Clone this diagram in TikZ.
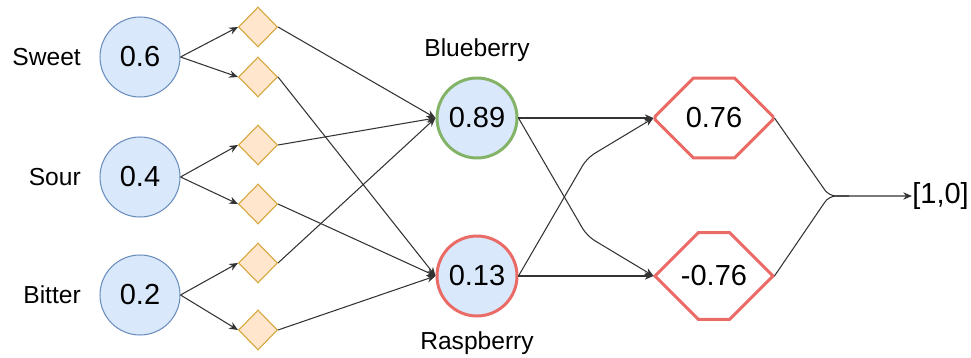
\documentclass[tikz,border=0pt]{standalone}
\usepackage{fontspec}
\setmainfont{Liberation Sans}
\usetikzlibrary{shapes,positioning,arrows.meta,calc}
\definecolor{infill}{HTML}{DAE8FC}
\definecolor{inblue}{HTML}{6C8EBF}
\definecolor{gatefill}{HTML}{FFE6CC}
\definecolor{gatedraw}{HTML}{D6A63A}
\definecolor{leafgreen}{HTML}{82B366}
\definecolor{hexred}{HTML}{EA6B66}

\begin{document}
\begin{tikzpicture}
[
x=0.02cm, y=-0.02cm,
valnode/.style={circle, draw=inblue, fill=infill, line width=0.6pt, minimum size=1.6cm, inner sep=0pt, font=\fontsize{16.5}{18}\selectfont},
gatenode/.style={diamond, draw=gatedraw, fill=gatefill, line width=0.6pt, minimum width=0.78cm, minimum height=0.8cm, inner sep=0pt},
hexnode/.style={chamfered rectangle, chamfered rectangle xsep=0.56cm, chamfered rectangle ysep=0.8cm, draw=hexred, line width=1.7pt, minimum width=2.36cm, minimum height=1.6cm, inner sep=0pt, font=\fontsize{16.5}{18}\selectfont},
nodelabel/.style={font=\fontsize{14}{16}\selectfont},
link/.style={draw=black!80, line width=0.6pt, -{Stealth[length=5pt,width=4.2pt]}},
plain/.style={draw=black!80, line width=0.6pt},
]
\useasboundingbox (0,0) rectangle (971,358);
%draw the inputs
\node[valnode] (sweet) at (140,57) {0.6};
\node[valnode] (sour) at (140,177) {0.4};
\node[valnode] (bitter) at (140,295) {0.2};
\node[nodelabel, left=0.25cm of sweet] (sweetlbl) {Sweet};
\node[nodelabel, left=0.25cm of sour] (sourlbl) {Sour};
\node[nodelabel, left=0.25cm of bitter] (bitterlbl) {Bitter};
%draw the weights
\foreach \n/\y in {1/27,2/77,3/145,4/204,5/263,6/330}
  \node[gatenode] (g\n) at (258,\y) {};
%draw the middle level
\node[valnode, draw=leafgreen, line width=1.7pt] (blue) at (477,118) {0.89};
\node[valnode, draw=hexred, line width=1.7pt] (rasp) at (477,276) {0.13};
\node[nodelabel] (bluelbl) at (477,50) {Blueberry};
\node[nodelabel] (rasplbl) at (477,343) {Raspberry};
%draw the outputs
\node[hexnode] (h1) at (714,118) {0.76};
\node[hexnode] (h2) at (714,276) {-0.76};
\node[anchor=west, inner sep=0pt, font=\fontsize{16.5}{18}\selectfont] (out) at (912,196) {[1,0]};
\coordinate (join) at (829,196);
\coordinate (bend1) at (587,236);
\coordinate (bend2) at (587,158);
%connect everything
\foreach \a/\g in {sweet/1,sweet/2,sour/3,sour/4,bitter/5,bitter/6}
  \draw[link] (\a.east) -- (g\g.west);
\foreach \g/\t in {1/blue,2/rasp,3/blue,4/rasp,5/blue,6/rasp}
  \draw[link] (g\g.east) -- (\t.west);
\draw[link] (blue.east) -- (h1.west);
\draw[link] (rasp.east) -- (h2.west);
\draw[link, rounded corners=5pt] (blue.east) -- (bend1) -- (h2.west);
\draw[link, rounded corners=5pt] (rasp.east) -- (bend2) -- (h1.west);
\draw[link, rounded corners=4pt] (h1.east) -- (join) -- (out.west);
\draw[plain, rounded corners=4pt] (h2.east) -- (join) -- ++(20,0);
\end{tikzpicture}
\end{document}
